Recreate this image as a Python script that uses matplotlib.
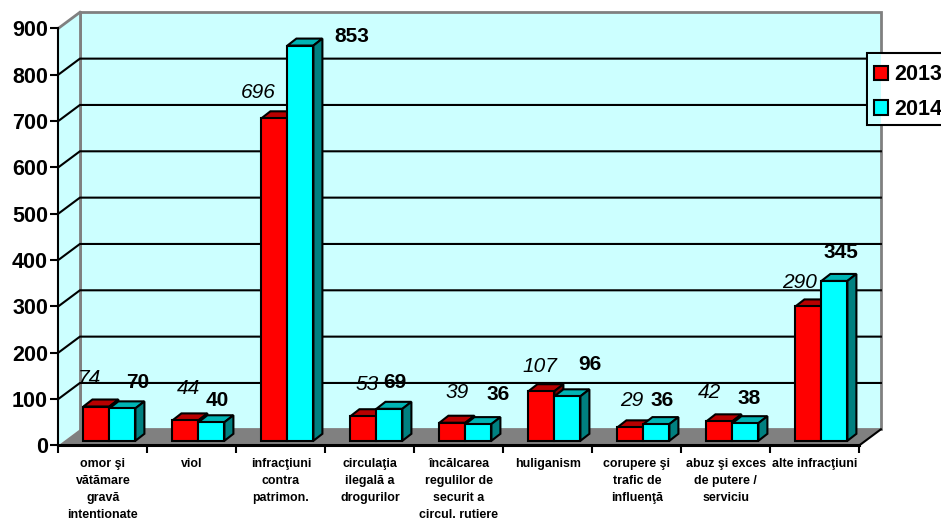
"""Grouped pseudo-3D column chart, offences 2013 vs 2014."""

import matplotlib
matplotlib.use("Agg")
import matplotlib.pyplot as plt
from matplotlib.patches import Patch, Polygon, Rectangle

plt.rcParams["font.family"] = ["Liberation Sans", "DejaVu Sans"]

CATEGORIES = [
    "omor şi\nvătămare\ngravă\nintentionate",
    "viol",
    "infracţiuni\ncontra\npatrimon.",
    "circulaţia\nilegală a\ndrogurilor",
    "încălcarea\nregulilor de\nsecurit a\ncircul. rutiere",
    "huliganism",
    "corupere şi\ntrafic de\ninfluenţă",
    "abuz şi exces\nde putere /\nserviciu",
    "alte infracţiuni",
]
VALUES_2013 = [74, 44, 696, 53, 39, 107, 29, 42, 290]
VALUES_2014 = [70, 40, 853, 69, 36, 96, 36, 38, 345]
Y_TICKS = [0, 100, 200, 300, 400, 500, 600, 700, 800, 900]

# label centres in figure pixels; these were moved by hand in the original
POS_2013 = [(89, 378), (188, 388), (258, 93), (367, 385), (457, 393),
            (540, 367), (632, 401), (709, 392), (800, 283)]
POS_2014 = [(138, 382), (217, 400), (352, 37), (395, 383), (498, 395),
            (590, 364), (662, 400), (749, 398), (841, 252)]

W, H = 941, 521
LEFT, RIGHT, TOP, BOTTOM = 58.4, 859.4, 28.3, 445.3
PX_X = len(CATEGORIES) / (RIGHT - LEFT)      # data units per pixel
PX_Y = 900 / (BOTTOM - TOP)

WALL = "#CCFFFF"
GRAY = "#808080"
LW = 1.5

fig = plt.figure(figsize=(W / 100, H / 100), dpi=100)
ax = fig.add_axes([LEFT / W, 1 - BOTTOM / H, (RIGHT - LEFT) / W, (BOTTOM - TOP) / H])
ax.set_xlim(0, len(CATEGORIES))
ax.set_ylim(0, 900)

wx, wy = 21.5 * PX_X, 16 * PX_Y   # depth of the walls
n = len(CATEGORIES)


def poly(pts, fc, ec="none", lw=0, z=1):
    ax.add_patch(Polygon(pts, closed=True, facecolor=fc, edgecolor=ec, linewidth=lw,
                         zorder=z, clip_on=False, joinstyle="miter"))


# walls and floor
poly([(wx, wy), (n + wx, wy), (n + wx, 900 + wy), (wx, 900 + wy)], WALL, GRAY, 2, 1)
poly([(0, 0), (wx, wy), (wx, 900 + wy), (0, 900)], WALL, z=1)
poly([(0, 0), (n, 0), (n + wx, wy), (wx, wy)], GRAY, z=1.2)
ax.plot([0, wx], [900, 900 + wy], color=GRAY, lw=2, zorder=1.3, clip_on=False)
ax.plot([wx, wx], [wy, 900 + wy], color=GRAY, lw=2, zorder=1.3, clip_on=False)
ax.plot([n, n + wx], [0, wy], color="black", lw=LW, zorder=2, clip_on=False)

for t in Y_TICKS[1:-1]:
    ax.plot([0, wx, n + wx], [t, t + wy, t + wy], color="black", lw=LW, zorder=1.5,
            clip_on=False, solid_joinstyle="miter")

# bars
bw = 26 * PX_X
shift = 6.5 * PX_X
lift = 4.5 * PX_Y
dx, dy = 9 * PX_X, 7 * PX_Y


def bars(values, offset, front, top, side, z):
    for i, v in enumerate(values):
        x0 = i + 0.5 + shift + offset - bw / 2
        x1 = x0 + bw
        y0, y1 = lift, lift + v
        poly([(x0, y1), (x1, y1), (x1 + dx, y1 + dy), (x0 + dx, y1 + dy)], top, "black", LW, z)
        poly([(x1, y0), (x1 + dx, y0 + dy), (x1 + dx, y1 + dy), (x1, y1)], side, "black", LW, z)
        ax.bar(x0 + bw / 2, v, bw, bottom=lift, color=front, edgecolor="black",
               linewidth=LW, zorder=z + 0.1)
        z += 0.2


bars(VALUES_2013, -bw / 2, "#FF0000", "#B80000", "#800000", 3)
bars(VALUES_2014, bw / 2, "#00FFFF", "#00B4B4", "#008080", 6)

# axes
for s in ("top", "right"):
    ax.spines[s].set_visible(False)
for s in ("left", "bottom"):
    ax.spines[s].set_linewidth(LW)
    ax.spines[s].set_zorder(2)
ax.spines["bottom"].set_linewidth(2.2)

ax.set_yticks(Y_TICKS)
ax.tick_params(axis="y", length=6, width=LW, labelsize=15.5, pad=1.5)
for lab in ax.get_yticklabels():
    lab.set_fontweight("bold")

ax.set_xticks(range(n + 1))
ax.set_xticklabels([])
ax.tick_params(axis="x", which="major", length=6, width=LW)
ax.set_xticks([i + 0.5 for i in range(n)], minor=True)
ax.set_xticklabels(CATEGORIES, minor=True, fontsize=8.9, fontweight="bold", linespacing=1.55)
ax.tick_params(axis="x", which="minor", length=0, pad=9.5)

# data labels
for v, (px, py) in zip(VALUES_2013, POS_2013):
    fig.text(px / W, 1 - py / H, str(v), fontsize=15, style="italic", ha="center", va="center",
             zorder=20)
for v, (px, py) in zip(VALUES_2014, POS_2014):
    fig.text(px / W, 1 - py / H, str(v), fontsize=15, fontweight="bold", ha="center", va="center",
             zorder=20)

# legend box sits half on the wall, half on the white page
ax.add_artist(Rectangle((867 / W, 1 - 125 / H), 90 / W, 72 / H, transform=fig.transFigure,
                        facecolor="white", edgecolor="black", linewidth=LW, zorder=10,
                        clip_on=False))
ax.add_artist(Rectangle((867.8 / W, 1 - 124.2 / H), (881 - 867.8) / W, 70.4 / H,
                        transform=fig.transFigure, facecolor=WALL, edgecolor="none",
                        zorder=10.5, clip_on=False))
handles = [Patch(facecolor="#FF0000", edgecolor="black", linewidth=LW, label="2013"),
           Patch(facecolor="#00FFFF", edgecolor="black", linewidth=LW, label="2014")]
leg = ax.legend(handles=handles, loc="upper left", bbox_to_anchor=(868 / W, 1 - 58 / H),
                bbox_transform=fig.transFigure, frameon=False, borderaxespad=0, borderpad=0.3,
                handlelength=0.65, handleheight=0.65, handletextpad=0.25, labelspacing=0.63,
                prop={"size": 15.5, "weight": "bold"})
leg.set_zorder(12)

fig.savefig("out.png", dpi=100)
